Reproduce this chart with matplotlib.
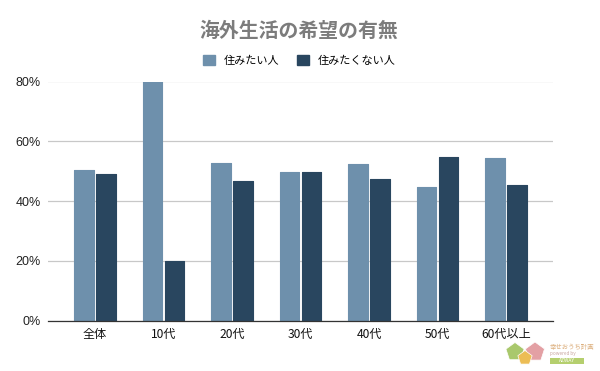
import matplotlib
matplotlib.use('Agg')
import matplotlib.pyplot as plt
import numpy as np
from matplotlib.patches import Patch, Polygon, Rectangle

plt.rcParams['font.family'] = ['Noto Sans CJK JP', 'DejaVu Sans']

categories = ['全体', '10代', '20代', '30代', '40代', '50代', '60代以上']
want = [50.5, 80.2, 52.8, 49.8, 52.5, 44.8, 54.5]
not_want = [49.2, 19.8, 46.8, 49.8, 47.2, 54.8, 45.2]
yticks = [0, 20, 40, 60, 80]
series_names = ['住みたい人', '住みたくない人']
title = '海外生活の希望の有無'
color_a = '#6e90ac'
color_b = '#29465f'

fig = plt.figure(figsize=(6, 3.71), dpi=100)
ax = fig.add_axes([48/600, 1-320.5/371, (553-48)/600, (320.5-81.5)/371])
x = np.arange(len(categories))
w = 0.282
for offset, vals, col in [(-0.16, want, color_a), (0.16, not_want, color_b)]:
    ax.bar(x+offset, vals, w, color=col, edgecolor=col, linewidth=0.8, joinstyle='round', zorder=3)
ax.set_xlim(-0.686, 6.686)
ax.set_ylim(0, 80)
ax.set_yticks(yticks)
ax.set_yticklabels([f'{v}%' for v in yticks], fontsize=9, color='#222222',
                   family=['Liberation Sans'])
ax.set_xticks(x)
ax.set_xticklabels(categories, fontsize=8.7, color='#111111')
ax.tick_params(length=0)
ax.tick_params(axis='x', pad=5.5)
ax.tick_params(axis='y', pad=5)
ax.grid(axis='y', color='#c8c8c8', lw=0.9, zorder=0)
for s in ['top', 'right', 'left']:
    ax.spines[s].set_visible(False)
ax.spines['bottom'].set_color('#333333')
ax.spines['bottom'].set_linewidth(0.9)
ax.spines['bottom'].set_zorder(4)
fig.text(299/600, 1-30.5/371, title, ha='center', va='center', fontsize=14.3, fontweight='bold', color='#7c7c7c')
fig.legend(handles=[Patch(color=color_a, label=series_names[0]), Patch(color=color_b, label=series_names[1])],
           loc='center', bbox_to_anchor=(299.5/600, 1-60.5/371), ncol=2, frameon=False, fontsize=8.0,
           handlelength=1.08, handleheight=0.99, handletextpad=0.81, columnspacing=1.53)

# small logo, figure pixel coordinates
def px(points):
    return [(a/600, 1-b/371) for a, b in points]
def pent(cx, cy, r, color):
    ang = np.deg2rad(np.arange(5)*72)
    pts = [(cx + r*np.sin(t), cy - r*np.cos(t)) for t in ang]
    fig.add_artist(Polygon(px(pts), closed=True, transform=fig.transFigure, fc=color, ec='white', lw=0.5))
pent(515, 352, 9.5, '#a9c86c')
pent(535, 352, 10, '#e3a0a4')
pent(525, 358, 7.5, '#ecbd55')
fig.text(550/600, 1-347/371, '幸せおうち計画', ha='left', va='center', fontsize=4.6, color='#dcae7c')
fig.text(550/600, 1-354/371, 'powered by', ha='left', va='center', fontsize=3.4, color='#c9a6a0')
fig.add_artist(Rectangle((550/600, 1-364/371), 34/600, 6/371, transform=fig.transFigure, fc='#b5cf6e', ec='none'))
fig.text(567/600, 1-361/371, 'AZWAY', ha='center', va='center', fontsize=3.6, color='white')
fig.savefig('out.png', dpi=100)
